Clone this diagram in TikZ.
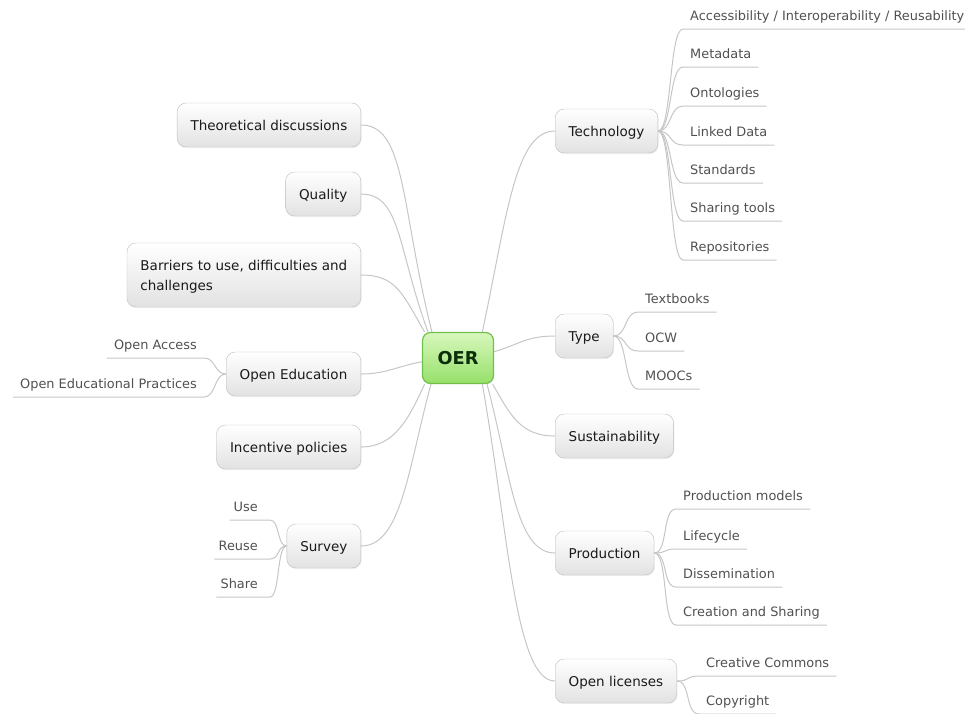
\documentclass[tikz,border=0pt]{standalone}
\usepackage{fontspec}
\setmainfont{DejaVu Sans}
\usetikzlibrary{shadows,backgrounds}
\definecolor{linkgray}{HTML}{C6C6C6}
\definecolor{branchline}{HTML}{BDBDBD}
\definecolor{branchbot}{HTML}{E2E2E2}
\definecolor{branchtext}{HTML}{1A1A1A}
\definecolor{leaftext}{HTML}{505050}
\definecolor{oerline}{HTML}{72C04C}
\definecolor{oertop}{HTML}{D8F7BC}
\definecolor{oerbot}{HTML}{96E06A}
\definecolor{oertext}{HTML}{0B2E0B}
\tikzset{link/.style={draw=linkgray, line width=1pt}}
\tikzset{branch/.style={draw=branchline, rounded corners=9pt, top color=white, bottom color=branchbot,
    minimum height=44pt, inner xsep=13.5pt, text height=11pt, text depth=1pt, text=branchtext,
    font=\fontsize{13.5}{20}\selectfont,
    drop shadow={opacity=0.12, shadow xshift=0.8pt, shadow yshift=-1.2pt}}}
\tikzset{leaf/.style={inner xsep=7pt, inner ysep=5pt, text height=10pt, text depth=3pt,
    text=leaftext, font=\fontsize{12.9}{15}\selectfont}}
\tikzset{root/.style={draw=oerline, line width=1.2pt, rounded corners=8pt, top color=oertop, bottom color=oerbot,
    minimum width=71pt, minimum height=51pt, text=oertext, font=\bfseries\fontsize{17.7}{20}\selectfont}}

\begin{document}
\begin{tikzpicture}[x=1pt, y=1pt]
    \useasboundingbox (0,0) rectangle (965,-713);
    \node[root] (oer) at (458,-358) {OER};

    \node[branch, anchor=west] (tech) at (555,-131) {Technology};
    \node[branch, anchor=west] (type) at (555,-336) {Type};
    \node[branch, anchor=west] (sust) at (555,-436) {Sustainability};
    \node[branch, anchor=west] (prod) at (555,-553) {Production};
    \node[branch, anchor=west] (lic) at (555,-681) {Open licenses};

    \node[branch, anchor=east] (theo) at (361,-125) {Theoretical discussions};
    \node[branch, anchor=east] (qual) at (361,-194) {Quality};
    \node[branch, anchor=east, align=left, minimum height=64pt, text height=31pt, text depth=1pt] (barr) at (361,-275) {Barriers to use, difficulties and\\challenges};
    \node[branch, anchor=east] (oed) at (361,-374) {Open Education};
    \node[branch, anchor=east] (inc) at (361,-447) {Incentive policies};
    \node[branch, anchor=east] (surv) at (361,-546) {Survey};

    \node[leaf, anchor=south west] (acc) at (683,-29) {Accessibility / Interoperability / Reusability};
    \node[leaf, anchor=south west] (meta) at (683,-67) {Metadata};
    \node[leaf, anchor=south west] (onto) at (683,-106) {Ontologies};
    \node[leaf, anchor=south west] (ld) at (683,-145) {Linked Data};
    \node[leaf, anchor=south west] (std) at (683,-183) {Standards};
    \node[leaf, anchor=south west] (share) at (683,-221) {Sharing tools};
    \node[leaf, anchor=south west] (repo) at (683,-260) {Repositories};

    \node[leaf, anchor=south west] (tb) at (638,-312) {Textbooks};
    \node[leaf, anchor=south west] (ocw) at (638,-351) {OCW};
    \node[leaf, anchor=south west] (mooc) at (638,-389) {MOOCs};

    \node[leaf, anchor=south west] (pm) at (676,-509) {Production models};
    \node[leaf, anchor=south west] (life) at (676,-549) {Lifecycle};
    \node[leaf, anchor=south west] (diss) at (676,-587) {Dissemination};
    \node[leaf, anchor=south west] (cas) at (676,-625) {Creation and Sharing};

    \node[leaf, anchor=south west] (cc) at (699,-676) {Creative Commons};
    \node[leaf, anchor=south west] (copy) at (699,-714) {Copyright};

    \node[leaf, anchor=south east] (oa) at (204,-358) {Open Access};
    \node[leaf, anchor=south east] (oep) at (204,-397) {Open Educational Practices};

    \node[leaf, anchor=south east, inner xsep=4pt] (use) at (262,-520) {Use};
    \node[leaf, anchor=south east, inner xsep=4pt] (reuse) at (262,-559) {Reuse};
    \node[leaf, anchor=south east, inner xsep=4pt] (shr) at (262,-597) {Share};

    \begin{scope}[on background layer]
        \draw[link] (oer.135) .. controls +(104:130) and +(45,0) .. (theo.east);
        \draw[link] (oer.139) .. controls +(110:90) and +(40,0) .. (qual.east);
        \draw[link] (oer.142) .. controls +(120:45) and +(35,0) .. (barr.east);
        \draw[link] (oer.186) .. controls +(190:25) and +(25,0) .. (oed.east);
        \draw[link] (oer.218) .. controls +(245:35) and +(35,0) .. (inc.east);
        \draw[link] (oer.224) .. controls +(255:90) and +(40,0) .. (surv.east);

        \draw[link] (oer.47) .. controls +(78:120) and +(-40,0) .. (tech.west);
        \draw[link] (oer.10) .. controls +(15:25) and +(-30,0) .. (type.west);
        \draw[link] (oer.-37) .. controls +(-60:35) and +(-35,0) .. (sust.west);
        \draw[link] (oer.-42) .. controls +(-75:90) and +(-40,0) .. (prod.west);
        \draw[link] (oer.-47) .. controls +(-80:150) and +(-40,0) .. (lic.west);

        \draw[link] (tech.east) .. controls +(14,0) and +(-14,0) .. (acc.south west) -- (acc.south east);
        \draw[link] (tech.east) .. controls +(14,0) and +(-14,0) .. (meta.south west) -- (meta.south east);
        \draw[link] (tech.east) .. controls +(14,0) and +(-14,0) .. (onto.south west) -- (onto.south east);
        \draw[link] (tech.east) .. controls +(14,0) and +(-14,0) .. (ld.south west) -- (ld.south east);
        \draw[link] (tech.east) .. controls +(14,0) and +(-14,0) .. (std.south west) -- (std.south east);
        \draw[link] (tech.east) .. controls +(14,0) and +(-14,0) .. (share.south west) -- (share.south east);
        \draw[link] (tech.east) .. controls +(14,0) and +(-14,0) .. (repo.south west) -- (repo.south east);

        \draw[link] (type.east) .. controls +(14,0) and +(-14,0) .. (tb.south west) -- (tb.south east);
        \draw[link] (type.east) .. controls +(14,0) and +(-14,0) .. (ocw.south west) -- (ocw.south east);
        \draw[link] (type.east) .. controls +(14,0) and +(-14,0) .. (mooc.south west) -- (mooc.south east);

        \draw[link] (prod.east) .. controls +(14,0) and +(-14,0) .. (pm.south west) -- (pm.south east);
        \draw[link] (prod.east) .. controls +(14,0) and +(-14,0) .. (life.south west) -- (life.south east);
        \draw[link] (prod.east) .. controls +(14,0) and +(-14,0) .. (diss.south west) -- (diss.south east);
        \draw[link] (prod.east) .. controls +(14,0) and +(-14,0) .. (cas.south west) -- (cas.south east);

        \draw[link] (lic.east) .. controls +(14,0) and +(-14,0) .. (cc.south west) -- (cc.south east);
        \draw[link] (lic.east) .. controls +(14,0) and +(-14,0) .. (copy.south west) -- (copy.south east);

        \draw[link] (oed.west) .. controls +(-12,0) and +(12,0) .. (oa.south east) -- (oa.south west);
        \draw[link] (oed.west) .. controls +(-12,0) and +(12,0) .. (oep.south east) -- (oep.south west);

        \coordinate (useend) at (270,-520);
        \coordinate (reuseend) at (270,-559);
        \coordinate (shrend) at (270,-597);
        \draw[link] (surv.west) .. controls +(-10,0) and +(10,0) .. (useend) -- (use.south west);
        \draw[link] (surv.west) .. controls +(-10,0) and +(10,0) .. (reuseend) -- (reuse.south west);
        \draw[link] (surv.west) .. controls +(-10,0) and +(10,0) .. (shrend) -- (shr.south west);
    \end{scope}
\end{tikzpicture}
\end{document}
